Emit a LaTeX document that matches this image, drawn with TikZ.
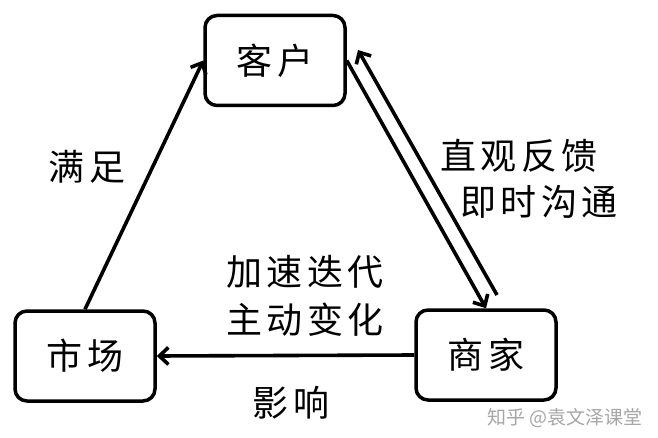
\documentclass[tikz,border=0pt]{standalone}
\usepackage{fontspec}
\setmainfont{Noto Sans CJK SC}
\newfontfamily\cjk[LetterSpace=12]{Noto Sans CJK SC}
\usetikzlibrary{arrows.meta,calc}
\begin{document}
\begin{tikzpicture}[x=1pt,y=-1pt,
  box/.style={draw,line width=3.5pt,rounded corners=12pt,minimum width=140pt,minimum height=90pt,inner sep=0pt,font=\cjk\fontsize{36}{40}\selectfont},
  conn/.style={line width=3.6pt,-{Straight Barb[length=9pt,width=17pt]}},
  lbl/.style={inner sep=0pt,font=\cjk\fontsize{36}{40}\selectfont},
  wm/.style={inner sep=0pt,text=black!35,font=\fontsize{19}{22}\selectfont}]
\useasboundingbox[fill=white] (0,0) rectangle (658,438);
\node[box] (kh) at (275,60.5) {客户};
\node[box] (sc) at (85,356) {市场};
\node[box] (sj) at (486,355) {商家};
\coordinate (up1) at (497,295);
\coordinate (up2) at (358,50);
\draw[conn] (sc.north) -- (kh.west);
\draw[conn] (kh.east) -- (sj.north);
\draw[conn] (up1) -- (up2);
\draw[conn] (sj.west) -- (sc.east);
\node[lbl] (l1) at (87,167) {满足};
\node[lbl] (l2) at (519,156) {直观反馈};
\node[lbl] (l3) at (539,202) {即时沟通};
\node[lbl] (l4) at (305,272) {加速迭代};
\node[lbl] (l5) at (305,320) {主动变化};
\node[lbl] (l6) at (291,403) {影响};
\node[wm] (w) at (565,418) {知乎 @袁文泽课堂};
\end{tikzpicture}
\end{document}
